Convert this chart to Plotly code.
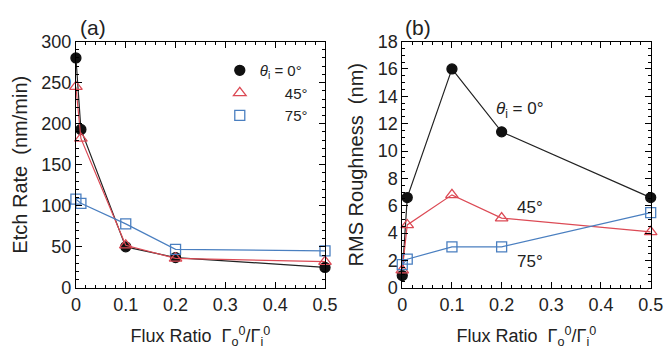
import plotly.graph_objects as go

flux = [0, 0.01, 0.1, 0.2, 0.5]
etch_0 = [280, 193, 50, 37, 25]
etch_45 = [245, 182, 52, 36, 32]
etch_75 = [108, 103, 78, 47, 45]
rough_0 = [0.9, 6.6, 16.0, 11.4, 6.6]
rough_45 = [1.3, 4.6, 6.8, 5.1, 4.1]
rough_75 = [1.7, 2.1, 3.0, 3.0, 5.5]
x_ticks = [0, 0.1, 0.2, 0.3, 0.4, 0.5]
x_ticklabels = ["0", "0.1", "0.2", "0.3", "0.4", "0.5"]

BLACK = "#111111"
RED = "#dc4a55"
BLUE = "#4a7fc0"
FONT = "Liberation Sans, Arial, sans-serif"
TXT = "#222222"

styles = [
    dict(color=BLACK, symbol="circle", fill=BLACK, size=10, line="#222222"),
    dict(color=RED, symbol="triangle-up-open", fill=RED, size=11, line=RED),
    dict(color=BLUE, symbol="square-open", fill=BLUE, size=10, line=BLUE),
]
names = ["<i>θ</i><sub>i</sub> = 0°", "      45°", "      75°"]

fig = go.Figure()
for xa, ya, series in [("x", "y", [etch_0, etch_45, etch_75]),
                       ("x2", "y2", [rough_0, rough_45, rough_75])]:
    for s, st in zip(series, styles):
        fig.add_trace(go.Scatter(
            x=flux, y=s, xaxis=xa, yaxis=ya, mode="lines+markers",
            line=dict(color=st["line"], width=1.2),
            marker=dict(symbol=st["symbol"], size=st["size"], color=st["fill"],
                        line=dict(color=st["color"], width=1.3)),
            cliponaxis=False, showlegend=False))

for nm, st in zip(names, styles):
    fig.add_trace(go.Scatter(
        x=[None], y=[None], xaxis="x", yaxis="y", mode="markers", name=nm,
        marker=dict(symbol=st["symbol"], size=st["size"], color=st["fill"],
                    line=dict(color=st["color"], width=1.3)),
        showlegend=True))

axis_common = dict(
    showline=True, linecolor="black", linewidth=1, mirror="allticks",
    ticks="inside", ticklen=6, tickwidth=1, tickcolor="black",
    showgrid=False, zeroline=False, automargin=False,
    tickfont=dict(family=FONT, size=18, color=TXT),
)
xt = "Flux Ratio  Γ<sub>o</sub><sup>0</sup>/Γ<sub>i</sub><sup>0</sup>"
fig.update_layout(
    template="none",
    width=666, height=349,
    margin=dict(l=0, r=0, t=0, b=0, autoexpand=False),
    paper_bgcolor="white", plot_bgcolor="white",
    font=dict(family=FONT, size=18, color=TXT),
    xaxis=dict(domain=[0.114, 0.488], range=[0, 0.5], tickvals=x_ticks,
               ticktext=x_ticklabels,
               minor=dict(dtick=0.02, ticks="inside", ticklen=3, tickcolor="black"),
               title=dict(text=xt, standoff=21, font=dict(size=18)), **axis_common),
    yaxis=dict(domain=[0.175, 0.881], range=[0, 300], dtick=50,
               minor=dict(dtick=10, ticks="inside", ticklen=3, tickcolor="black"),
               title=dict(text="Etch Rate  (nm/min)", standoff=8, font=dict(size=20)),
               **axis_common),
    xaxis2=dict(domain=[0.604, 0.977], range=[0, 0.5], tickvals=x_ticks,
                ticktext=x_ticklabels, anchor="y2",
                minor=dict(dtick=0.02, ticks="inside", ticklen=3, tickcolor="black"),
                title=dict(text=xt, standoff=21, font=dict(size=18)), **axis_common),
    yaxis2=dict(domain=[0.175, 0.881], range=[0, 18], dtick=2, anchor="x2",
                minor=dict(dtick=0.5, ticks="inside", ticklen=3, tickcolor="black"),
                title=dict(text="RMS Roughness  (nm)", standoff=8, font=dict(size=20)),
                **axis_common),
    legend=dict(x=0.33, y=0.845, xanchor="left", yanchor="top",
                bgcolor="rgba(0,0,0,0)", font=dict(family=FONT, size=15, color=TXT),
                itemwidth=30, tracegroupgap=0),
    annotations=[
        dict(text="(a)", xref="paper", yref="paper", x=0.1396, y=0.922,
             xanchor="center", yanchor="middle",
             showarrow=False, font=dict(size=21, color=TXT)),
        dict(text="(b)", xref="paper", yref="paper", x=0.628, y=0.922,
             xanchor="center", yanchor="middle",
             showarrow=False, font=dict(size=21, color=TXT)),
        dict(text="<i>θ</i><sub>i</sub> = 0°", xref="x2", yref="y2", x=0.237, y=13.0,
             showarrow=False, font=dict(size=17, color=TXT)),
        dict(text="45°", xref="x2", yref="y2", x=0.257, y=5.9,
             showarrow=False, font=dict(size=17, color=TXT)),
        dict(text="75°", xref="x2", yref="y2", x=0.257, y=1.9,
             showarrow=False, font=dict(size=17, color=TXT)),
    ],
)

fig.write_html("out.html")
